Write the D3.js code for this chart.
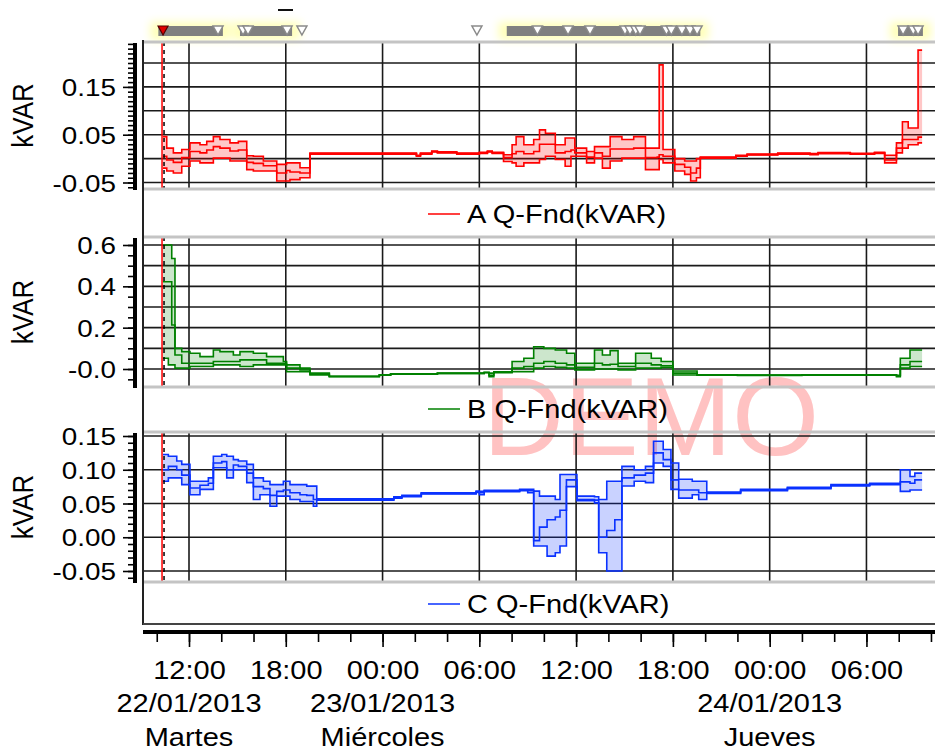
<!DOCTYPE html>
<html><head><meta charset="utf-8">
<script src="https://cdn.jsdelivr.net/npm/d3@7"></script>
<style>
body{margin:0;background:#fff}
svg{display:block}
text{font-family:"Liberation Sans",Arial,sans-serif;fill:#000}
</style>
</head><body>
<svg id="chart" width="935" height="753"></svg>
<script>
// ---------------- DATA (hours since 22/01/2013 00:00) ----------------
const aTime=[10.39,10.62,11.03,11.55,12.06,12.68,13.10,13.51,13.92,14.54,15.06,15.58,15.99,16.61,17.44,18.05,18.26,18.88,19.50,26.10,26.35,27.05,27.40,28.60,30.00,30.50,30.80,31.50,32.03,32.28,32.76,33.37,33.73,34.10,34.71,35.32,35.68,35.92,36.65,37.14,37.63,38.11,38.84,39.57,40.30,41.03,41.15,41.39,42.12,42.73,43.10,43.46,43.70,45.90,46.60,48.50,50.50,51.00,53.00,54.50,55.13,55.86,56.23,56.59,57.20,57.45];
const aMin =[-0.020,-0.026,-0.030,-0.016,-0.005,-0.009,-0.009,0.001,0.001,-0.005,-0.005,-0.023,-0.026,-0.026,-0.047,-0.047,-0.044,-0.040,0.0094,0.005,0.0094,0.014,0.012,0.0094,0.011,0.014,0.011,-0.006,-0.009,-0.016,-0.009,-0.009,-0.002,0.005,-0.002,-0.016,0.005,0.005,-0.009,0.001,-0.020,-0.005,0.001,0.001,-0.023,-0.023,-0.002,-0.009,-0.026,-0.033,-0.047,-0.040,0.001,0.005,0.0074,0.0094,0.0084,0.0104,0.009,0.011,-0.009,0.012,0.022,0.029,0.033,0.033];
const aAvg =[0.005,-0.003,-0.008,0.002,0.015,0.012,0.018,0.025,0.022,0.016,0.018,-0.008,-0.010,-0.015,-0.030,-0.025,-0.028,-0.030,0.0104,0.006,0.0104,0.015,0.013,0.0104,0.012,0.015,0.012,0.002,0.010,0.015,0.010,0.015,0.030,0.030,0.012,0.015,0.018,0.012,0.003,0.012,0.005,0.020,0.020,0.022,0.002,0.003,0.008,0.005,-0.012,-0.018,-0.030,-0.020,0.002,0.006,0.0084,0.0104,0.0094,0.0114,0.010,0.012,-0.003,0.022,0.040,0.040,0.045,0.045];
const aMax =[0.046,0.022,0.012,0.019,0.033,0.029,0.036,0.046,0.040,0.033,0.036,0.006,0.005,-0.005,-0.012,-0.009,-0.009,-0.019,0.0114,0.007,0.0114,0.016,0.014,0.0114,0.013,0.016,0.013,0.008,0.029,0.046,0.029,0.040,0.060,0.053,0.029,0.043,0.043,0.022,0.015,0.025,0.025,0.046,0.040,0.046,0.022,0.022,0.196,0.019,0.000,-0.005,-0.005,0.000,0.003,0.007,0.0094,0.0114,0.0104,0.0124,0.011,0.013,0.007,0.033,0.077,0.064,0.227,0.227];

const bTime=[10.39,10.72,10.93,11.13,11.55,12.06,12.68,13.51,13.92,14.75,15.16,15.99,16.81,17.85,18.05,18.88,19.50,20.70,23.80,24.50,27.40,30.30,30.60,30.90,32.03,32.76,33.37,34.00,34.71,35.41,35.92,37.14,37.63,38.11,38.60,39.69,40.66,41.27,42.00,43.50,46.00,50.00,55.86,56.10,56.70,57.45];
const bMin =[0.052,0.020,0.020,0.004,0.004,0.012,0.012,0.020,0.020,0.020,0.012,0.020,0.020,0.020,-0.013,-0.013,-0.029,-0.037,-0.030,-0.025,-0.022,-0.018,-0.037,-0.018,-0.013,-0.013,0.004,0.012,0.008,0.004,-0.004,0.000,0.000,0.000,-0.004,0.004,0.004,0.008,-0.029,-0.030,-0.031,-0.030,-0.037,0.004,0.012,0.012];
const bAvg =[0.422,0.422,0.213,0.068,0.028,0.028,0.028,0.036,0.036,0.036,0.044,0.044,0.028,0.028,0.004,-0.005,-0.025,-0.036,-0.029,-0.024,-0.021,-0.017,-0.030,-0.016,0.004,0.012,0.028,0.036,0.028,0.020,0.008,0.028,0.020,0.023,0.012,0.028,0.020,0.016,-0.020,-0.029,-0.030,-0.029,-0.033,0.020,0.036,0.036];
const bMax =[0.600,0.600,0.535,0.100,0.084,0.076,0.060,0.092,0.084,0.068,0.084,0.076,0.060,0.036,0.020,0.004,-0.020,-0.035,-0.028,-0.023,-0.020,-0.016,-0.020,-0.014,0.036,0.052,0.108,0.100,0.092,0.076,0.028,0.092,0.068,0.089,0.028,0.076,0.052,0.036,-0.010,-0.028,-0.029,-0.028,-0.030,0.052,0.092,0.092];

const cTime=[10.39,10.72,11.24,11.55,12.06,12.68,13.20,13.51,14.03,14.34,14.75,15.06,15.58,15.99,16.40,16.61,17.02,17.44,17.85,18.26,18.88,19.30,19.71,19.92,24.70,25.20,26.40,29.80,30.00,30.30,32.50,33.00,33.37,33.73,34.20,34.71,35.00,35.40,36.05,37.14,37.40,37.90,38.40,38.84,39.60,40.30,40.80,41.40,41.88,42.36,43.20,43.60,44.10,46.20,49.10,51.80,54.20,56.10,56.70,57.00,57.45];
const cMin =[0.083,0.088,0.088,0.078,0.063,0.071,0.071,0.103,0.103,0.088,0.100,0.100,0.081,0.056,0.063,0.063,0.046,0.061,0.061,0.056,0.053,0.053,0.046,0.055,0.058,0.060,0.064,0.0665,0.063,0.0675,0.069,0.066,-0.013,-0.013,-0.028,-0.023,-0.013,0.075,0.054,0.051,-0.023,-0.050,-0.050,0.076,0.083,0.081,0.110,0.105,0.071,0.058,0.063,0.056,0.065,0.069,0.072,0.076,0.078,0.068,0.070,0.070,0.070];
const cAvg =[0.100,0.105,0.100,0.092,0.073,0.077,0.080,0.110,0.112,0.100,0.107,0.105,0.095,0.075,0.075,0.072,0.062,0.068,0.070,0.066,0.063,0.062,0.056,0.056,0.059,0.061,0.065,0.0675,0.066,0.0685,0.070,0.069,-0.005,0.015,0.026,0.030,0.040,0.085,0.056,0.055,0.000,0.010,0.026,0.088,0.092,0.095,0.125,0.115,0.085,0.070,0.070,0.066,0.066,0.070,0.073,0.077,0.079,0.082,0.080,0.085,0.085];
const cMax =[0.1226,0.120,0.113,0.108,0.083,0.083,0.088,0.120,0.1226,0.120,0.115,0.113,0.108,0.088,0.088,0.083,0.078,0.078,0.083,0.078,0.078,0.0757,0.0757,0.057,0.060,0.062,0.066,0.0685,0.068,0.0695,0.071,0.071,0.0683,0.061,0.061,0.056,0.093,0.093,0.061,0.060,0.056,0.083,0.083,0.105,0.100,0.105,0.1423,0.130,0.110,0.086,0.083,0.083,0.067,0.071,0.074,0.078,0.080,0.100,0.090,0.095,0.095];

const seriesNames=["A Q-Fnd(kVAR)","B Q-Fnd(kVAR)","C Q-Fnd(kVAR)"];
const yTicksA=[0.15,0.05,-0.05], yLabelsA=["0.15","0.05","-0.05"];
const yTicksB=[0.6,0.4,0.2,0.0],  yLabelsB=["0.6","0.4","0.2","-0.0"];
const yTicksC=[0.15,0.10,0.05,0.00,-0.05], yLabelsC=["0.15","0.10","0.05","0.00","-0.05"];
const gridA=[-0.05,0,0.05,0.10,0.15,0.20];
const gridB=[0,0.1,0.2,0.3,0.4,0.5,0.6];
const gridC=[-0.05,0,0.05,0.10,0.15];
const timeTickHours=[12,18,24,30,36,42,48,54];
const timeTickLabels=["12:00","18:00","00:00","06:00","12:00","18:00","00:00","06:00"];
const dateHours=[12,24,48];
const dateLabels=["22/01/2013","23/01/2013","24/01/2013"];
const dayLabels=["Martes","Miércoles","Jueves"];
const markerHour=10.39;
const eventBands=[[10.1,14.1],[15.16,18.39],[31.7,43.7],[55.96,57.5]];
const eventMarks=[13.8,15.35,15.66,18.08,19.0,29.85,33.6,35.5,36.86,39.03,39.34,39.7,39.96,41.6,41.9,42.56,43.06,43.5,56.27,56.9,57.2];

// ---------------- LAYOUT ----------------
const base=new Date(2013,0,22,0,0,0).getTime();
const toDate=h=>new Date(base+h*3600e3);
const X0=143, X1=935;
const x=d3.scaleTime().domain([toDate(9.148),toDate(58.25)]).range([X0,X1]);
const SX=1.16; // horizontal stretch of the original text
const svg=d3.select("#chart");

const panels=[
  {time:aTime,min:aMin,avg:aAvg,max:aMax,color:"#ff0000",fill:"rgba(255,0,0,0.22)",top:42,bot:189,
   y:d3.scaleLinear().domain([-0.05,0.20]).range([182.5,63]),ticks:yTicksA,labels:yLabelsA,grid:gridA,minorStep:0.01,legendY:214,name:seriesNames[0]},
  {time:bTime,min:bMin,avg:bAvg,max:bMax,color:"#008000",fill:"rgba(0,128,0,0.2)",top:237,bot:387,
   y:d3.scaleLinear().domain([0,0.6]).range([369,245]),ticks:yTicksB,labels:yLabelsB,grid:gridB,minorStep:0.05,legendY:409,name:seriesNames[1]},
  {time:cTime,min:cMin,avg:cAvg,max:cMax,color:"#0a32ff",fill:"rgba(10,50,255,0.22)",top:432,bot:582,
   y:d3.scaleLinear().domain([-0.05,0.15]).range([571,436]),ticks:yTicksC,labels:yLabelsC,grid:gridC,minorStep:0.01,legendY:604,name:seriesNames[2]}
];

function stext(g,px,py,str,size,anchor){
  return g.append("text").attr("transform",`translate(${px},${py}) scale(${SX},1)`)
    .attr("text-anchor",anchor).attr("font-size",size).text(str);
}

// defs
const defs=svg.append("defs");
defs.append("filter").attr("id","glow").attr("x","-50%").attr("y","-100%").attr("width","200%").attr("height","300%")
  .append("feGaussianBlur").attr("stdDeviation",4);
panels.forEach((p,i)=>{
  defs.append("clipPath").attr("id","clip"+i).append("rect")
    .attr("x",X0).attr("y",p.top).attr("width",X1-X0).attr("height",p.bot-p.top);
});

// DEMO watermark
svg.append("text").attr("x",651).attr("y",455).attr("text-anchor","middle")
  .attr("font-size",112).style("fill","#ffc2c2").text("DEMO");

// top event strip
const ev=svg.append("g");
ev.selectAll("rect.glow").data(eventBands).join("rect")
  .attr("x",d=>x(toDate(d[0]))-8).attr("y",22).attr("width",d=>x(toDate(d[1]))-x(toDate(d[0]))+16).attr("height",18)
  .attr("fill","#ffff80").attr("opacity",0.55).attr("filter","url(#glow)");
ev.selectAll("rect.band").data(eventBands).join("rect")
  .attr("x",d=>x(toDate(d[0]))).attr("y",26).attr("width",d=>x(toDate(d[1]))-x(toDate(d[0]))).attr("height",10)
  .attr("fill","#808080");
const tri=h=>{const c=x(toDate(h));return `M${c-5},26L${c+5},26L${c},35Z`;};
ev.selectAll("path.mk").data(eventMarks).join("path").attr("d",tri)
  .attr("fill","#fff").attr("stroke","#8a8a8a").attr("stroke-width",1.5);
ev.append("path").attr("d",tri(markerHour)).attr("fill","#e00000").attr("stroke","#500").attr("stroke-width",1.2);
svg.append("line").attr("x1",278).attr("x2",293).attr("y1",10).attr("y2",10).attr("stroke","#111").attr("stroke-width",2);

panels.forEach((p,i)=>{
  const g=svg.append("g");
  const y=p.y;
  // gridlines
  g.selectAll("line.h").data(p.grid).join("line")
    .attr("x1",X0).attr("x2",X1).attr("y1",d=>y(d)).attr("y2",d=>y(d))
    .attr("stroke","#1a1a1a").attr("stroke-width",1.6);
  g.selectAll("line.v").data(timeTickHours).join("line")
    .attr("x1",d=>x(toDate(d))).attr("x2",d=>x(toDate(d))).attr("y1",p.top).attr("y2",p.bot)
    .attr("stroke","#1a1a1a").attr("stroke-width",1.6);

  // data
  const rows=p.time.map((t,k)=>({t,mn:p.min[k],av:p.avg[k],mx:p.max[k]}));
  const dg=g.append("g").attr("clip-path",`url(#clip${i})`);
  dg.append("path").datum(rows).attr("fill",p.fill)
    .attr("d",d3.area().curve(d3.curveStepAfter).x(d=>x(toDate(d.t))).y0(d=>y(d.mn)).y1(d=>y(d.mx)));
  ["mn","mx","av"].forEach(k=>{
    dg.append("path").datum(rows).attr("fill","none").attr("stroke",p.color).attr("stroke-width",1.6)
      .attr("d",d3.line().curve(d3.curveStepAfter).x(d=>x(toDate(d.t))).y(d=>y(d[k])));
  });

  // cursor line
  const mx=x(toDate(markerHour));
  g.append("line").attr("x1",mx-1).attr("x2",mx-1).attr("y1",p.top).attr("y2",p.bot).attr("stroke","#ff0000").attr("stroke-width",1.5);
  g.append("line").attr("x1",mx+1).attr("x2",mx+1).attr("y1",p.top).attr("y2",p.bot).attr("stroke","#000").attr("stroke-width",1.5).attr("stroke-dasharray","4,4");

  // panel borders
  [p.top,p.bot].forEach(yy=>g.append("line").attr("x1",X0).attr("x2",X1).attr("y1",yy).attr("y2",yy)
    .attr("stroke","#c4c4c4").attr("stroke-width",3));

  // y axis
  const vTop=y.invert(p.top+1), vBot=y.invert(p.bot-1);
  const minor=d3.range(Math.ceil(vBot/p.minorStep)*p.minorStep, vTop, p.minorStep);
  const ax=svg.append("g").attr("transform","translate(135,0)");
  ax.call(d3.axisLeft(y).tickValues(minor).tickSize(7).tickFormat("").tickSizeOuter(0));
  ax.call(g2=>g2.select(".domain").remove());
  ax.selectAll("line").attr("stroke","#000").attr("stroke-width",1.6);
  const axM=svg.append("g").attr("transform","translate(135,0)");
  axM.call(d3.axisLeft(y).tickValues(p.ticks).tickSize(12).tickFormat((d,k)=>p.labels[k]).tickSizeOuter(0));
  axM.call(g2=>g2.select(".domain").remove());
  axM.selectAll("line").attr("stroke","#000").attr("stroke-width",1.6);
  axM.selectAll("text").attr("x",null).attr("dy",null).attr("font-size",24)
    .attr("font-family","Liberation Sans, Arial, sans-serif")
    .attr("transform","translate(-19,8.5) scale("+SX+",1)").style("fill","#000");
  svg.append("line").attr("x1",135).attr("x2",135).attr("y1",p.top+1).attr("y2",p.bot+1).attr("stroke","#000").attr("stroke-width",4);

  // y title
  svg.append("text").attr("transform",`translate(33,${(p.top+p.bot)/2}) scale(${SX},1) rotate(-90)`)
    .attr("text-anchor","middle").attr("font-size",26).text("kVAR");

  // legend
  svg.append("line").attr("x1",428).attr("x2",460).attr("y1",p.legendY).attr("y2",p.legendY).attr("stroke",p.color).attr("stroke-width",1.5);
  stext(svg,467,p.legendY+9,p.name,25,"start");
});

// frame
svg.append("line").attr("x1",X0).attr("x2",X0).attr("y1",40).attr("y2",625).attr("stroke","#222").attr("stroke-width",2);
svg.append("line").attr("x1",X0).attr("x2",X1).attr("y1",624).attr("y2",624).attr("stroke","#444").attr("stroke-width",2);

// x axis
const every2=d3.range(10,60,2).map(toDate);
const xa=svg.append("g").attr("transform","translate(0,633)");
xa.call(d3.axisBottom(x).tickValues(every2).tickSize(9).tickFormat("").tickSizeOuter(0));
xa.select(".domain").remove();
xa.selectAll("line").attr("stroke","#000").attr("stroke-width",1.6);
const xM=svg.append("g").attr("transform","translate(0,633)");
xM.call(d3.axisBottom(x).tickValues(timeTickHours.map(toDate)).tickSize(14).tickFormat((d,k)=>timeTickLabels[k]).tickSizeOuter(0));
xM.select(".domain").remove();
xM.selectAll("line").attr("stroke","#000").attr("stroke-width",1.6);
xM.selectAll("text").attr("y",null).attr("dy",null).attr("font-size",25)
  .attr("font-family","Liberation Sans, Arial, sans-serif")
  .attr("transform","translate(0,46) scale("+SX+",1)").style("fill","#000");
svg.append("line").attr("x1",X0).attr("x2",X1).attr("y1",632).attr("y2",632).attr("stroke","#000").attr("stroke-width",4);
dateHours.forEach((h,k)=>{
  stext(svg,x(toDate(h)),712,dateLabels[k],25,"middle");
  stext(svg,x(toDate(h)),746,dayLabels[k],25,"middle");
});
</script>
</body></html>
